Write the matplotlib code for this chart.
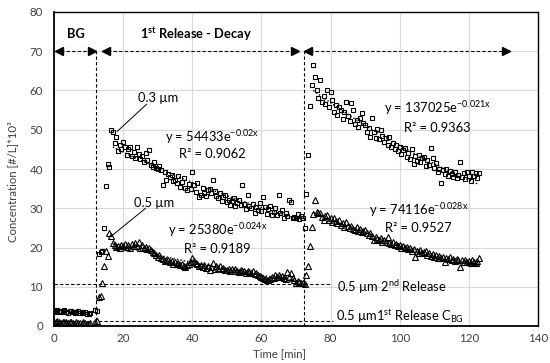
import numpy as np
import matplotlib
matplotlib.use("Agg")
import matplotlib.pyplot as plt

plt.rcParams['font.family'] = ['Lato', 'DejaVu Sans']
plt.rcParams['mathtext.fontset'] = 'custom'
plt.rcParams['mathtext.rm'] = 'Lato'
plt.rcParams['mathtext.bf'] = 'Lato:bold'
plt.rcParams['mathtext.it'] = 'Lato:italic'

nan = np.nan
# 0.3 um (squares), sampled every 0.5 min from t = 0 to 123 min, [#/L]*10^3
sq_03 = [
    3.9, 3.6, 4.1, 3.7, 3.5, 3.8, 4.0, 3.6, 3.4, 3.7,
    3.9, 3.5, 3.3, 3.6, 3.8, 3.4, 3.2, 3.5, 3.6, 3.1,
    3.0, 3.2, nan, nan, 4.1, 3.7, 18.3, 18.8, 19.2, 24.9,
    35.7, 41.4, 40.6, 49.9, 49.5, 46.5, 48.1, 44.7, 46.1, 45.2,
    47.0, 45.7, 43.6, 45.0, 45.7, 43.2, 44.4, 42.9, 45.7, 43.8,
    42.5, 43.4, 41.9, 44.0, 42.2, 44.8, 41.0, 40.6, 41.9, 40.2,
    39.9, 40.8, 39.7, 35.9, 39.2, 37.2, 38.6, 38.0, 38.5, 37.0,
    37.2, 36.4, 38.1, 35.5, 36.8, 37.6, 35.2, 34.6, 36.1, 35.0,
    39.3, 35.8, 34.2, 36.5, 32.9, 33.4, 35.1, 34.0, 33.2, 34.6,
    35.0, 33.8, 37.2, 34.5, 33.1, 32.6, 34.0, 31.8, 32.9, 33.5,
    31.5, 32.2, 30.8, 31.9, 32.5, 30.6, 31.4, 32.0, 30.9, 35.9,
    31.2, 29.8, 33.5, 30.5, 30.1, 31.0, 28.9, 30.4, 29.6, 31.3,
    29.4, 32.9, 30.2, 28.6, 29.8, 30.5, 28.2, 29.1, 30.0, 28.4,
    33.4, 28.8, 29.6, 27.5, 28.9, 28.0, 32.0, 31.6, 27.4, 27.8,
    27.5, 28.6, 27.2, 27.9, 27.4, 25.0, 33.6, 43.6, 56.0, 61.4,
    66.5, 63.5, 60.1, 58.1, 62.8, 57.1, 58.5, 56.5, 60.1, 55.8,
    59.7, 57.5, 54.6, 56.2, 53.7, 55.9, 55.0, 52.8, 54.4, 57.1,
    53.5, 52.2, 56.8, 55.0, 51.5, 52.4, 50.6, 53.0, 54.3, 51.6,
    51.2, 49.3, 50.4, 48.2, 52.9, 49.5, 48.0, 50.1, 47.6, 49.9,
    48.5, 46.9, 47.8, 46.2, 48.2, 45.7, 46.6, 45.1, 46.0, 44.5,
    45.6, 43.9, 44.8, 45.3, 43.0, 44.2, 42.5, 45.0, 41.4, 43.3,
    42.0, 43.6, 41.8, 42.9, 43.1, 40.8, 42.2, 41.0, 45.3, 42.7,
    40.2, 41.5, 39.3, 40.0, 36.5, 39.8, 38.6, 39.9, 38.2, 39.5,
    38.8, 38.0, 39.2, 37.6, 38.4, 41.7, 38.0, 38.9, 37.5, 39.3,
    38.1, 37.0, 39.3, 38.2, 38.9, 37.8, 38.9,
]
# 0.5 um (triangles)
tr_05 = [
    1.1, 0.9, 1.2, 1.0, 0.8, 1.1, 0.9, 1.0, 0.7, 0.9,
    1.0, 0.8, 0.6, 0.9, 0.7, 0.8, 0.6, 0.9, 0.7, 0.5,
    0.6, 0.8, nan, nan, 1.1, 1.2, 7.5, 7.7, 10.9, 15.3,
    19.2, 17.8, 23.6, 22.9, 21.2, 20.6, 20.1, 20.4, 19.8, 20.6,
    20.3, 20.8, 20.2, 20.6, 20.0, 20.9, 20.4, 21.1, 20.5, 21.3,
    19.9, 20.6, 19.8, 20.2, 19.5, 20.0, 19.4, 18.9, 18.6, 18.2,
    17.7, 18.0, 17.3, 17.0, 16.6, 16.9, 16.8, 16.2, 16.5, 15.9,
    16.4, 15.8, 16.1, 15.5, 15.9, 15.3, 15.1, 15.6, 15.8, 16.2,
    17.2, 16.6, 16.0, 15.8, 15.4, 15.5, 15.1, 15.6, 14.8, 15.2,
    14.3, 15.0, 16.0, 14.6, 15.4, 14.9, 15.3, 14.5, 14.8, 14.2,
    14.3, 14.6, 14.0, 14.4, 13.9, 14.5, 14.1, 13.7, 14.2, 13.9,
    14.0, 13.6, 14.1, 13.8, 13.5, 13.9, 13.3, 13.6, 13.0, 12.8,
    12.6, 12.2, 12.0, 11.8, 11.7, 12.1, 12.5, 12.2, 12.9, 12.6,
    13.0, 12.4, 12.8, 12.2, 12.0, 13.8, 12.6, 13.4, 12.3, 11.6,
    10.9, 11.5, 11.2, 11.0, 10.9, 10.8, 13.0, 15.3, 20.4, 25.3,
    28.5, 32.1, 29.1, 28.9, 28.7, 27.8, 27.0, 28.0, 28.3, 26.9,
    27.4, 26.6, 27.4, 26.8, 26.2, 26.9, 25.8, 26.3, 25.3, 26.6,
    25.5, 25.0, 25.6, 24.8, 24.5, 25.1, 24.3, 24.7, 23.9, 24.1,
    24.4, 23.6, 23.2, 23.7, 22.9, 21.9, 22.6, 22.2, 21.8, 22.4,
    21.5, 22.0, 21.3, 22.8, 21.1, 20.8, 21.4, 20.6, 20.9, 20.3,
    20.7, 20.0, 20.4, 19.8, 20.2, 19.6, 19.9, 19.2, 19.5, 17.6,
    19.0, 18.7, 19.4, 18.5, 18.9, 19.0, 18.2, 18.6, 17.9, 18.3,
    17.6, 18.1, 17.4, 17.8, 17.2, 17.6, 16.4, 17.3, 17.0, 17.5,
    16.8, 17.1, 16.6, 17.0, 16.7, 15.1, 16.9, 16.4, 16.7, 16.2,
    16.5, 16.0, 16.8, 16.3, 16.0, 16.5, 17.2,
]
assert len(sq_03) == len(tr_05)
time_min = np.arange(len(sq_03)) * 0.5
sq = np.array(sq_03)
tr = np.array(tr_05)

# fit windows for trendlines [min]
fit_windows = [(17, 72), (75, 123)]

xticks = [0, 20, 40, 60, 80, 100, 120, 140]
yticks = [0, 10, 20, 30, 40, 50, 60, 70, 80]

fig = plt.figure(figsize=(5.5, 3.63), dpi=100)
ax = fig.add_axes([54/550, 1-326/363, 484/550, 314/363])
ax.set_xlim(0, 140)
ax.set_ylim(0, 80)
ax.set_xticks(xticks)
ax.set_yticks(yticks)
ax.grid(True, color='#d9d9d9', lw=0.8, zorder=0)
ax.set_axisbelow(True)
ax.tick_params(length=0, labelsize=8.3, labelcolor='#404040')
ax.tick_params(axis='y', pad=8)
ax.tick_params(axis='x', pad=5)
for s in ax.spines.values():
    s.set_color('black')
    s.set_linewidth(1.0)
ax.spines['left'].set_linewidth(1.3)
ax.spines['bottom'].set_linewidth(1.3)

ax.plot(time_min, sq, ls='none', marker='s', ms=3.4, mfc='none', mec='black', mew=0.8, zorder=3)
ax.plot(time_min, tr, ls='none', marker='^', ms=3.7, mfc='none', mec='black', mew=0.8, zorder=3)

# exponential trendlines
for y in (sq, tr):
    for a, b in fit_windows:
        m = (time_min >= a) & (time_min <= b) & ~np.isnan(y)
        k, c = np.polyfit(time_min[m], np.log(y[m]), 1)
        xx = np.linspace(a, b, 100)
        ax.plot(xx, np.exp(c + k*xx), color='black', lw=1.0, ls=(0, (1, 1.5)), zorder=4)

dash = (0, (3, 2))
lkw = dict(color='black', lw=0.8, ls=dash, zorder=2)
# double arrows at y = 70
for x0, x1 in [(0.4, 12.0), (13.9, 70.7), (72.4, 131.8)]:
    ax.plot([x0, x1], [70, 70], **lkw)
    ax.plot(x0 + 1.1, 70, marker='<', ms=5.5, color='black', ls='none', zorder=5)
    ax.plot(x1 - 1.1, 70, marker='>', ms=5.5, color='black', ls='none', zorder=5)
# vertical dashed separators
for xv in (12.2, 72.3):
    ax.plot([xv, xv], [0, 70], **lkw)
# horizontal reference lines
ax.plot([0, 80.4], [10.7, 10.7], **lkw)
ax.plot([0, 80.7], [1.35, 1.35], **lkw)

fs = 9.3
ax.text(6.3, 74.4, 'BG', fontsize=9.3, fontweight='bold', ha='center', va='center')
ax.text(41, 74.4, r'1$^{\mathregular{st}}$ Release - Decay', fontsize=9.3, fontweight='bold',
        ha='center', va='center')

ax.plot([18.3, 26.8], [49.6, 56.5], color='black', lw=0.7)
ax.text(30.2, 58, '0.3 µm', fontsize=fs, ha='center', va='center')
ax.plot([17.0, 26.5], [23.2, 30.0], color='black', lw=0.7)
ax.text(29.0, 31.3, '0.5 µm', fontsize=fs, ha='center', va='center')

ax.text(45.8, 48.2, r'y = 54433e$^{\mathregular{-0.02x}}$', fontsize=fs, ha='center', va='center')
ax.text(45.9, 43.8, 'R² = 0.9062', fontsize=fs, ha='center', va='center')
ax.text(47.5, 24.5, r'y = 25380e$^{\mathregular{-0.024x}}$', fontsize=fs, ha='center', va='center')
ax.text(47.3, 19.6, 'R² = 0.9189', fontsize=fs, ha='center', va='center')
ax.text(111, 55.5, r'y = 137025e$^{\mathregular{-0.021x}}$', fontsize=fs, ha='center', va='center')
ax.text(111, 50.4, 'R² = 0.9363', fontsize=fs, ha='center', va='center')
ax.text(105.6, 29.6, r'y = 74116e$^{\mathregular{-0.028x}}$', fontsize=fs, ha='center', va='center')
ax.text(105.3, 25.0, 'R² = 0.9527', fontsize=fs, ha='center', va='center')

ax.text(81.8, 10.0, r'0.5 µm 2$^{\mathregular{nd}}$ Release', fontsize=fs, ha='left', va='center')
ax.text(81.6, 2.4, r'0.5 µm1$^{\mathregular{st}}$ Release C$_{\mathregular{BG}}$', fontsize=fs,
        ha='left', va='center')

fig.text(280/550, 1-354/363, 'Time [min]', fontsize=8.2, color='#404040', ha='center', va='center')
fig.text(13/550, 1-182/363, 'Concentration [#/L]*10³', fontsize=8.2, color='#404040',
         rotation=90, ha='center', va='center')

fig.savefig('out.png', dpi=100)
